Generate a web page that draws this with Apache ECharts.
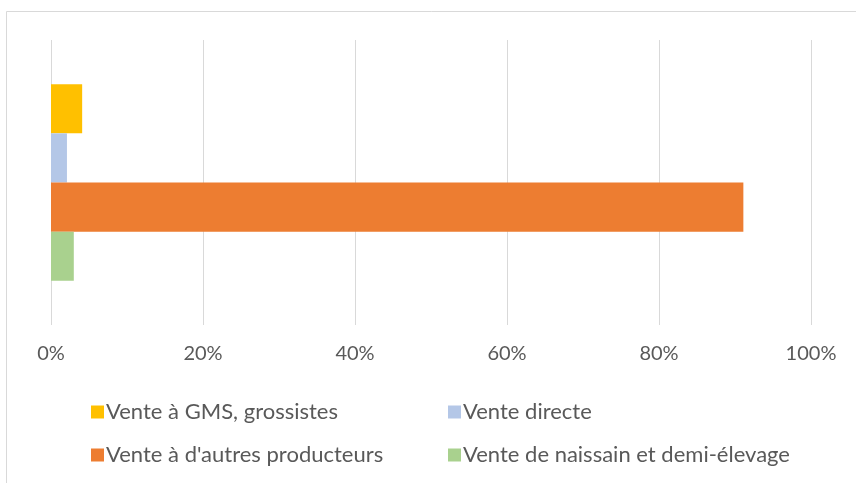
<!DOCTYPE html>
<html>
<head>
<meta charset="utf-8">
<script src="https://cdn.jsdelivr.net/npm/echarts@6/dist/echarts.min.js"></script>
<style>
  html, body { margin: 0; padding: 0; background: #fff; }
  #chart { width: 856px; height: 483px; }
</style>
</head>
<body>
<div id="chart"></div>
<script>
const categories = [""];
const seriesNames = [
  "Vente à GMS, grossistes",
  "Vente directe",
  "Vente à d'autres producteurs",
  "Vente de naissain et demi-élevage"
];
const seriesValues = [0.041, 0.021, 0.911, 0.030];
const seriesColors = ["#FFC000", "#B4C7E7", "#ED7D31", "#A9D18E"];

const chart = echarts.init(document.getElementById("chart"), null, { renderer: "canvas" });
const textColor = "#595959";
const font = "Lato";

chart.setOption({
  animation: false,
  backgroundColor: "#fff",
  graphic: [
    {
      type: "rect",
      shape: { x: 6.5, y: 11.5, width: 900, height: 500 },
      style: { fill: "none", stroke: "#D9D9D9", lineWidth: 1 }
    }
  ],
  grid: { left: 51, right: 45, top: 40, bottom: 158 },
  xAxis: {
    type: "value",
    min: 0,
    max: 1,
    interval: 0.2,
    axisLine: { show: false },
    axisTick: { show: false },
    splitLine: { lineStyle: { color: "#D9D9D9", width: 1 } },
    axisLabel: {
      color: textColor,
      fontFamily: font,
      fontSize: 20,
      margin: 19,
      formatter: (v) => Math.round(v * 100) + "%"
    }
  },
  yAxis: {
    type: "category",
    data: categories,
    inverse: true,
    axisLine: { show: false },
    axisTick: { show: false },
    axisLabel: { show: false }
  },
  legend: [
    {
      orient: "vertical",
      left: 86,
      top: 396,
      itemWidth: 13,
      itemHeight: 13,
      itemGap: 21,
      icon: "rect",
      textStyle: { color: textColor, fontFamily: font, fontSize: 22, padding: [0, 0, 0, -3] },
      data: [seriesNames[0], seriesNames[2]]
    },
    {
      orient: "vertical",
      left: 443,
      top: 396,
      itemWidth: 13,
      itemHeight: 13,
      itemGap: 21,
      icon: "rect",
      textStyle: { color: textColor, fontFamily: font, fontSize: 22, padding: [0, 0, 0, -3] },
      data: [seriesNames[1], seriesNames[3]]
    }
  ],
  series: seriesNames.map((name, i) => ({
    name: name,
    type: "bar",
    data: [seriesValues[i]],
    barGap: "0%",
    barCategoryGap: "31%",
    itemStyle: { color: seriesColors[i] }
  }))
});
</script>
</body>
</html>
